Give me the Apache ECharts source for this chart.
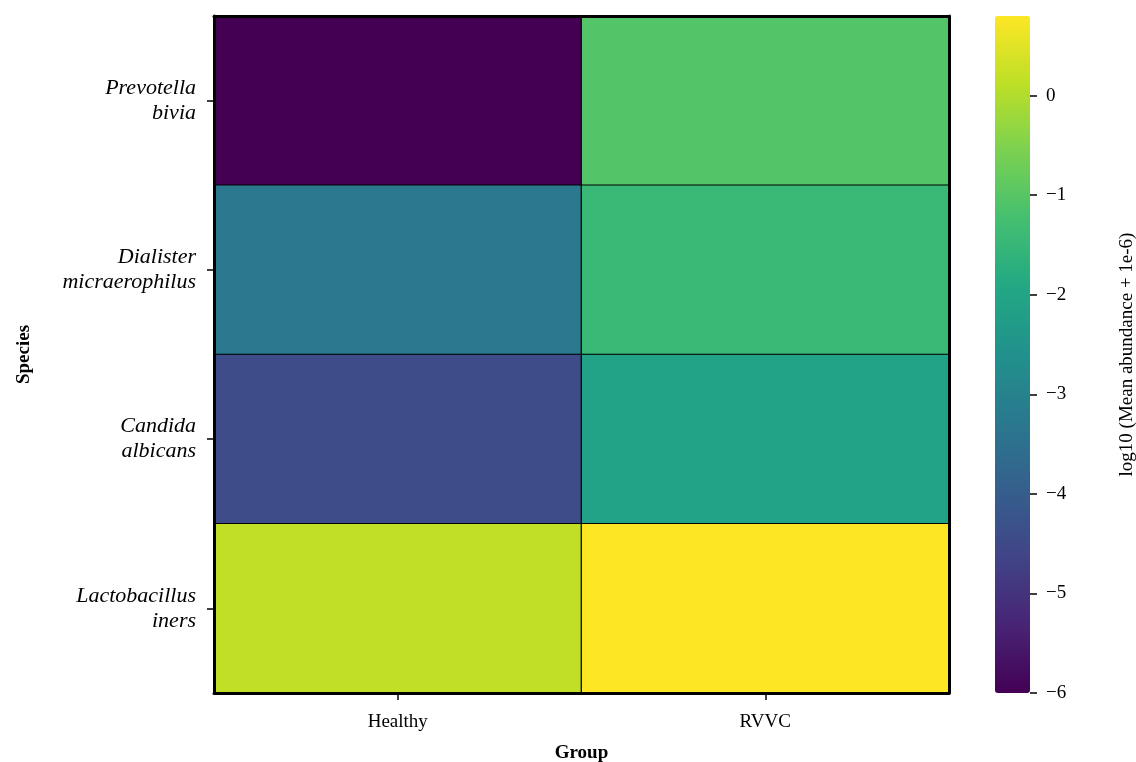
<!DOCTYPE html>
<html>
<head>
<meta charset="utf-8">
<title>Species abundance heatmap</title>
<script src="https://cdn.jsdelivr.net/npm/echarts@6/dist/echarts.min.js"></script>
<style>
  html, body { margin: 0; padding: 0; background: #ffffff; }
  #chart { width: 1136px; height: 762px; }
</style>
</head>
<body>
<div id="chart"></div>
<script>
// Groups (columns) and species (rows, top to bottom)
const groups = ['Healthy', 'RVVC'];
const species = ['Prevotella bivia', 'Dialister micraerophilus', 'Candida albicans', 'Lactobacillus iners'];

// log10(mean abundance + 1e-6), one array per group, in species order
const healthyValues = [-6.0, -3.25, -4.45, 0.15];
const rvvcValues = [-1.05, -1.45, -2.1, 0.8];

// Colour scale range and colourbar ticks
const scaleMin = -6;
const scaleMax = 0.8;
const colorbarTicks = [-6, -5, -4, -3, -2, -1, 0];

// Viridis colour stops
const viridis = ['#440154', '#482475', '#414487', '#355f8d', '#2a788e', '#21918c',
                 '#22a884', '#44bf70', '#7ad151', '#bddf26', '#fde725'];

const FONT = '"Liberation Serif", "DejaVu Serif", serif';

const cells = [];
species.forEach((s, i) => {
  cells.push([0, i, healthyValues[i]]);
  cells.push([1, i, rvvcValues[i]]);
});

const grid = { left: 214, top: 16, width: 735, height: 677 };
const cbar = { left: 995, top: 16, width: 35, height: 677 };

const chart = echarts.init(document.getElementById('chart'), null, { renderer: 'canvas' });

chart.setOption({
  backgroundColor: '#ffffff',
  animation: false,
  textStyle: { fontFamily: FONT },
  grid: [
    Object.assign({ containLabel: false, outerBoundsMode: 'none' }, grid),
    Object.assign({ containLabel: false, outerBoundsMode: 'none' }, cbar)
  ],
  xAxis: [
    {
      type: 'category', gridIndex: 0, data: groups, position: 'bottom', z: 5,
      axisLine: { show: true, lineStyle: { color: '#000', width: 3 } },
      axisTick: { show: true, alignWithLabel: true, length: 7, lineStyle: { color: '#000', width: 1.5 } },
      axisLabel: { color: '#000', fontSize: 19, fontFamily: FONT, margin: 20 },
      splitLine: { show: false },
      name: 'Group', nameLocation: 'middle', nameGap: 51,
      nameTextStyle: { color: '#000', fontSize: 19, fontWeight: 'bold', fontFamily: FONT }
    },
    {
      type: 'category', gridIndex: 0, data: groups, position: 'top', z: 5,
      axisLine: { show: true, lineStyle: { color: '#000', width: 3 } },
      axisTick: { show: false }, axisLabel: { show: false }, splitLine: { show: false }
    },
    {
      // placeholder axis for the colourbar grid
      type: 'category', gridIndex: 1, data: [''], show: false
    }
  ],
  yAxis: [
    {
      type: 'category', gridIndex: 0, data: species, inverse: true, position: 'left', z: 5,
      axisLine: { show: true, lineStyle: { color: '#000', width: 3 } },
      axisTick: { show: true, alignWithLabel: true, length: 7, lineStyle: { color: '#000', width: 1.5 } },
      axisLabel: {
        color: '#000', fontSize: 22, fontStyle: 'italic', fontFamily: FONT, margin: 18,
        lineHeight: 25, align: 'right',
        formatter: v => v.replace(' ', '\n')
      },
      splitLine: { show: false },
      name: 'Species', nameLocation: 'middle', nameGap: 180, nameRotate: 90,
      nameTextStyle: { color: '#000', fontSize: 19, fontWeight: 'bold', fontFamily: FONT }
    },
    {
      type: 'category', gridIndex: 0, data: species, inverse: true, position: 'right', z: 5,
      axisLine: { show: true, lineStyle: { color: '#000', width: 3 } },
      axisTick: { show: false }, axisLabel: { show: false }, splitLine: { show: false }
    },
    {
      type: 'value', gridIndex: 1, position: 'right', min: scaleMin, max: scaleMax,
      z: 5,
      axisLine: { show: false, onZero: false },
      axisTick: { show: true, length: 7, inside: false, lineStyle: { color: '#000', width: 1.5 },
                  customValues: colorbarTicks },
      axisLabel: {
        color: '#000', fontSize: 19, fontFamily: FONT, margin: 16,
        customValues: colorbarTicks,
        formatter: v => (v < 0 ? '\u2212' + Math.abs(v) : String(v))
      },
      splitLine: { show: false },
      name: 'log10 (Mean abundance + 1e-6)', nameLocation: 'middle', nameGap: 88, nameRotate: 90,
      nameTextStyle: { color: '#000', fontSize: 19, fontFamily: FONT }
    }
  ],
  visualMap: {
    type: 'continuous',
    seriesIndex: 0,
    min: scaleMin,
    max: scaleMax,
    calculable: false,
    orient: 'vertical',
    left: cbar.left,
    top: cbar.top,
    itemWidth: cbar.width,
    itemHeight: cbar.height,
    padding: 0,
    text: null,
    showLabel: false,
    inRange: { color: viridis }
  },
  series: [
    {
      type: 'heatmap',
      xAxisIndex: 0,
      yAxisIndex: 0,
      data: cells,
      itemStyle: { borderColor: '#000', borderWidth: 1.2 },
      emphasis: { disabled: true },
      label: { show: false }
    }
  ]
});
</script>
</body>
</html>
